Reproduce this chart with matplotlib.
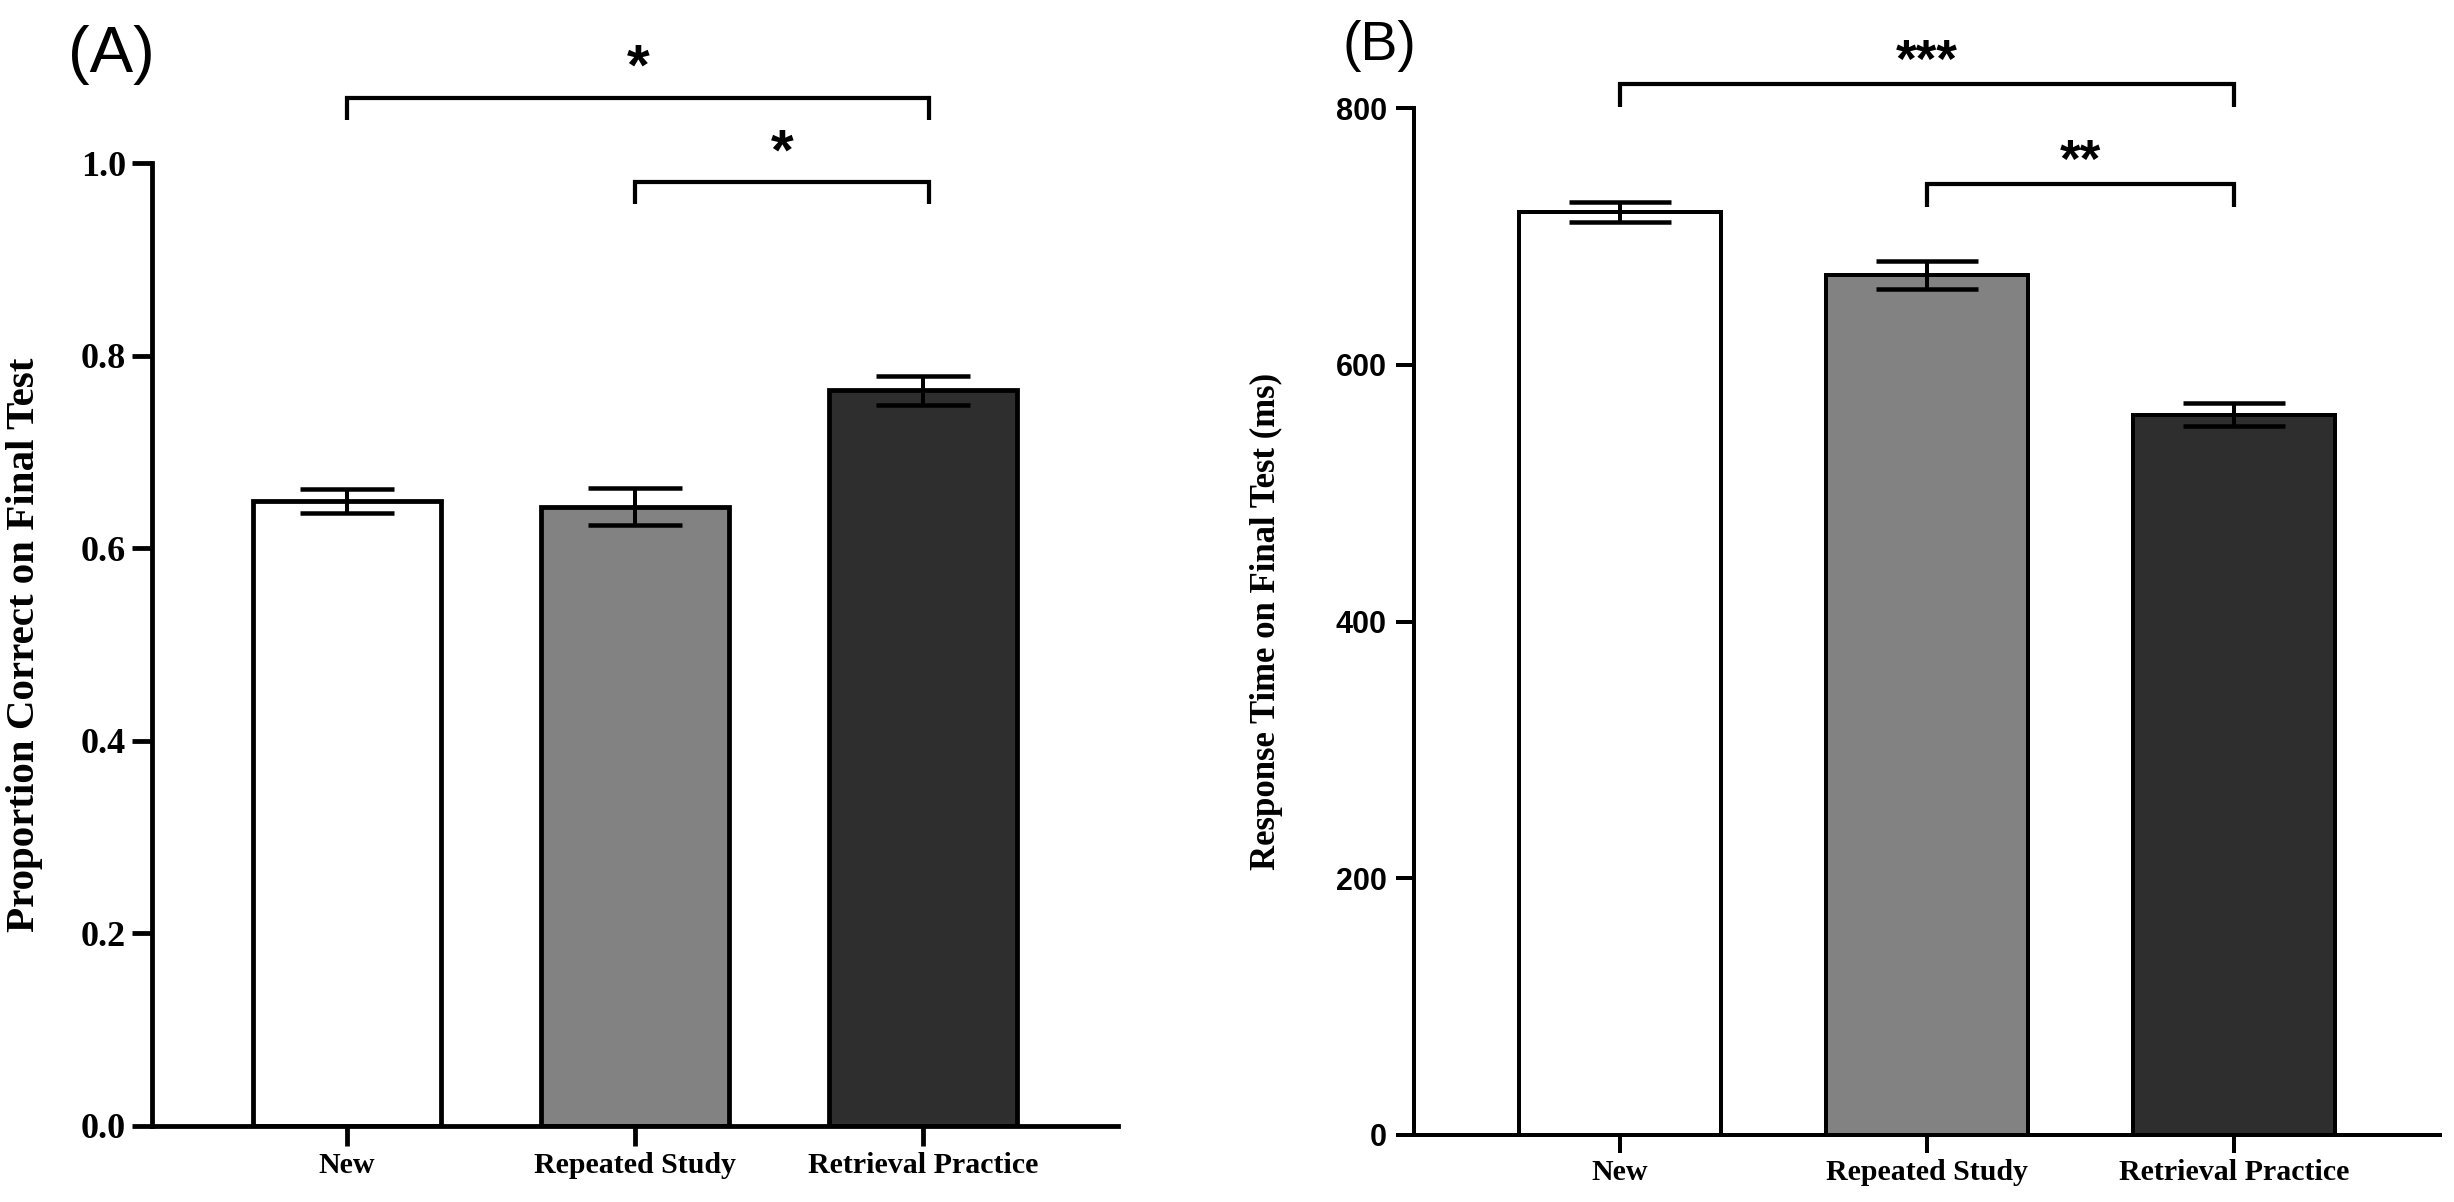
import numpy as np
import matplotlib
matplotlib.use("Agg")
import matplotlib.pyplot as plt

# ---------------------------
# Data
# ---------------------------
conditions = ['New', 'Repeated Study', 'Retrieval Practice']
bar_colors = ['#ffffff', '#828282', '#2e2e2e']

acc_mean = [0.649, 0.643, 0.764]
acc_sem = [0.012, 0.019, 0.015]
acc_ticks = [0.0, 0.2, 0.4, 0.6, 0.8, 1.0]

rt_mean = [719, 670, 561]
rt_sem = [8, 11, 9]
rt_ticks = [0, 200, 400, 600, 800]

# significance: (left bar, right bar, stars)
acc_sig = [(0, 2, '*'), (1, 2, '*')]
rt_sig = [(0, 2, '***'), (1, 2, '**')]

SERIF = 'Liberation Serif'
SANS = 'Liberation Sans'

W, H = 2454, 1202
DPI = 100


def px(v):
    # pixels -> points at DPI
    return v * 72.0 / DPI


def draw_panel(ax, means, sems, ticks, tick_fmt, tick_font, tick_size,
               lw, tick_len, cap_pts, xlim):
    x = np.arange(len(conditions))
    ax.bar(x, means, width=0.656, color=bar_colors, edgecolor='black',
           linewidth=lw, zorder=2)
    ax.errorbar(x, means, yerr=sems, fmt='none', ecolor='black',
                elinewidth=px(4), capsize=cap_pts, capthick=px(4.5), zorder=3)
    ax.set_xlim(*xlim)
    ax.set_ylim(ticks[0], ticks[-1])
    ax.set_yticks(ticks)
    ax.set_yticklabels([tick_fmt.format(t) for t in ticks],
                       fontfamily=tick_font, fontweight='bold', fontsize=tick_size)
    ax.set_xticks(x)
    ax.set_xticklabels(conditions, fontfamily=SERIF, fontweight='bold', fontsize=21.5)
    for s in ['top', 'right']:
        ax.spines[s].set_visible(False)
    for s in ['left', 'bottom']:
        ax.spines[s].set_linewidth(lw)
    ax.tick_params(axis='both', direction='out', length=tick_len, width=lw)
    ax.tick_params(axis='x', pad=4)


def add_bracket(ax, x0, x1, y, drop, label, star_y, star_size, lw):
    ax.plot([x0, x0, x1, x1], [y - drop, y, y, y - drop], color='black',
            linewidth=lw, clip_on=False, solid_capstyle='butt',
            solid_joinstyle='miter')
    # star centred on star_y (asterisk sits high above the baseline)
    ax.annotate(label, xy=((x0 + x1) / 2, star_y), xytext=(0, -0.45 * star_size),
                textcoords='offset points', ha='center', va='baseline',
                fontfamily=SANS, fontweight='bold', fontsize=star_size,
                annotation_clip=False)


fig = plt.figure(figsize=(W / DPI, H / DPI), dpi=DPI)

# ---------------------------
# Panel A - accuracy
# ---------------------------
axA = fig.add_axes([152 / W, (H - 1126) / H, (1118 - 152) / W, (1126 - 163) / H])
draw_panel(axA, acc_mean, acc_sem, acc_ticks, '{:.1f}', SERIF, 26,
           lw=px(4.8), tick_len=px(20), cap_pts=px(47), xlim=(-0.677, 2.677))
axA.tick_params(axis='y', pad=px(6))
axA.set_ylabel('Proportion Correct on Final Test', fontfamily=SERIF,
               fontweight='bold', fontsize=29.5)
axA.yaxis.set_label_coords(-0.113, 0.5)
brA_y = [1.0675, 0.980]
starA_y = [1.109, 1.020]
for (a, b, lab), yb, ys in zip(acc_sig, brA_y, starA_y):
    add_bracket(axA, a, b + 0.02, yb, 0.023, lab, ys, 42, px(4.2))

fig.text(68 / W, 1 - 72 / H, '(A)', fontfamily=SANS, fontsize=47,
         ha='left', va='baseline')

# ---------------------------
# Panel B - response time
# ---------------------------
axB = fig.add_axes([1414 / W, (H - 1135) / H, (2440 - 1414) / W, (1135 - 108) / H])
draw_panel(axB, rt_mean, rt_sem, rt_ticks, '{:d}', SANS, 22,
           lw=px(4.0), tick_len=px(18), cap_pts=px(51), xlim=(-0.67, 2.67))
axB.tick_params(axis='y', pad=px(9))
axB.set_ylabel('Response Time on Final Test (ms)', fontfamily=SERIF,
               fontweight='bold', fontsize=25)
axB.yaxis.set_label_coords(-0.128, 0.5)
brB_y = [819, 741]
starB_y = [843, 765]
for (a, b, lab), yb, ys in zip(rt_sig, brB_y, starB_y):
    add_bracket(axB, a, b, yb, 18, lab, ys, 38, px(4.2))

fig.text(1343 / W, 1 - 60 / H, '(B)', fontfamily=SANS, fontsize=40,
         ha='left', va='baseline')

fig.savefig('out.png', dpi=DPI)
